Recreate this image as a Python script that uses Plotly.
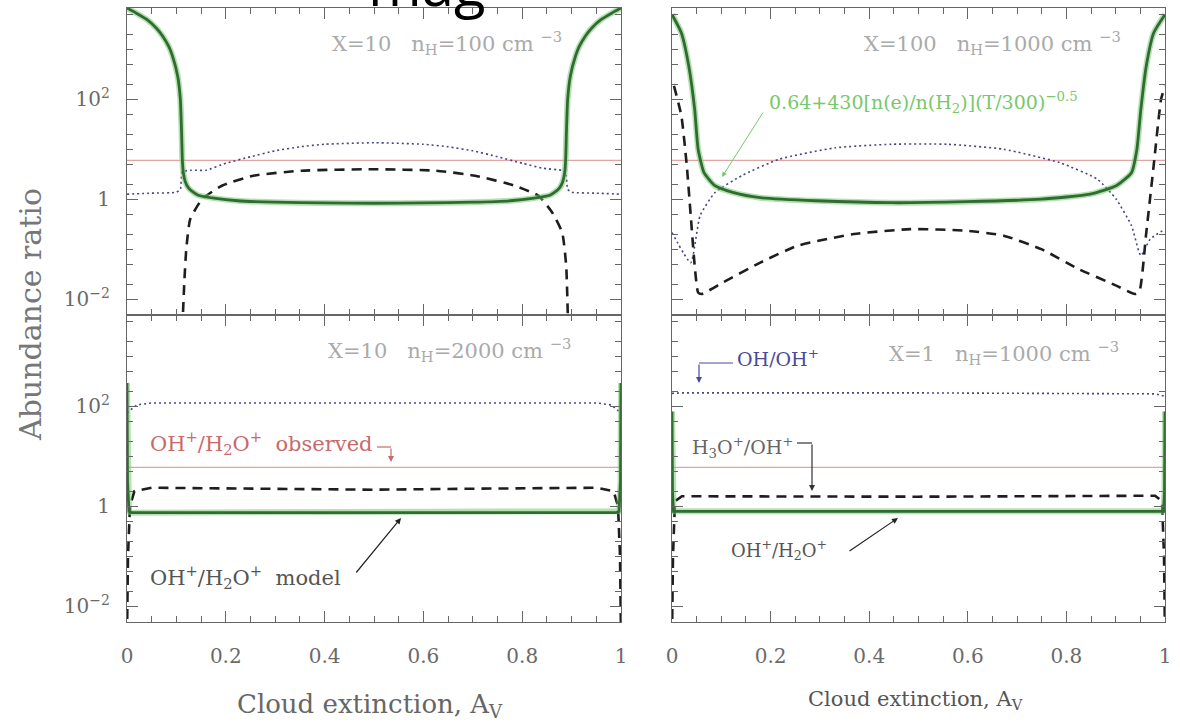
import plotly.graph_objects as go

# ---------------- data (ratios vs cloud extinction A_V) ----------------
OBS_RATIO = 6.0
obs_x = [0.0, 1.0]
obs_y = [OBS_RATIO, OBS_RATIO]

# Top-left: X=10, nH=100
tl_green_x = [0.0, 0.02, 0.04, 0.06, 0.072, 0.085, 0.092, 0.1025, 0.108, 0.1105, 0.112, 0.114, 0.118,
              0.124, 0.134, 0.144, 0.176, 0.224, 0.3, 0.4, 0.5, 0.6, 0.7, 0.776, 0.824, 0.856, 0.866,
              0.876, 0.882, 0.886, 0.888, 0.8895, 0.892, 0.8975, 0.908, 0.915, 0.928, 0.94, 0.96, 0.98, 1.0]
tl_green_y = [6760, 5250, 3980, 2630, 1860, 1120, 741, 295, 100, 21.4, 6.3, 3.4, 2.24,
              1.70, 1.38, 1.20, 1.05, 0.93, 0.87, 0.84, 0.83, 0.84, 0.87, 0.93, 1.05, 1.20, 1.38,
              1.70, 2.24, 3.4, 6.3, 21.4, 100, 295, 741, 1120, 1860, 2630, 3980, 5250, 6760]
tl_dash_x = [0.112, 0.116, 0.12, 0.128, 0.152, 0.192, 0.256, 0.353, 0.497, 0.625, 0.705, 0.785,
             0.833, 0.861, 0.881, 0.889, 0.893]
tl_dash_y = [0.0025, 0.0214, 0.1, 0.398, 1.0, 1.86, 2.95, 3.72, 3.98, 3.72, 2.95, 1.86,
             1.17, 0.537, 0.214, 0.0468, 0.0025]
tl_dot_x = [0.0, 0.05, 0.1, 0.108, 0.112, 0.13, 0.16, 0.2, 0.25, 0.3, 0.35, 0.4, 0.5, 0.6, 0.65,
            0.7, 0.75, 0.8, 0.84, 0.88, 0.888, 0.892, 0.9, 0.95, 1.0]
tl_dot_y = [1.26, 1.32, 1.38, 1.58, 3.55, 3.8, 3.8, 5.25, 7.08, 9.33, 11.2, 12.6, 13.5, 12.6, 11.2,
            9.33, 7.08, 5.25, 4.2, 3.8, 3.55, 1.58, 1.38, 1.32, 1.26]

# Top-right: X=100, nH=1000
tr_green_x = [0.0, 0.019, 0.034, 0.046, 0.053, 0.065, 0.087, 0.125, 0.179, 0.293, 0.445, 0.597,
              0.749, 0.848, 0.901, 0.932, 0.943, 0.951, 0.962, 0.977, 1.0]
tr_green_y = [5010, 2140, 468, 63, 10, 3.39, 1.86, 1.35, 1.07, 0.93, 0.85, 0.89,
              1.0, 1.26, 1.86, 3.39, 10, 63, 468, 2140, 5010]
tr_dash_x = [0.004, 0.019, 0.03, 0.038, 0.046, 0.053, 0.06, 0.103, 0.179, 0.255, 0.369, 0.483,
             0.597, 0.673, 0.749, 0.825, 0.901, 0.939, 0.948, 0.962, 0.977, 0.992, 1.0]
tr_dash_y = [186, 46.8, 4.68, 0.468, 0.0468, 0.0135, 0.0126, 0.0214, 0.0537, 0.117, 0.2, 0.251,
             0.234, 0.186, 0.1, 0.0398, 0.0186, 0.0126, 0.0141, 0.214, 4.68, 100, 186]
tr_dot_x = [0.0, 0.038, 0.057, 0.087, 0.141, 0.217, 0.331, 0.445, 0.559, 0.673, 0.787, 0.863,
            0.901, 0.932, 0.951, 0.97, 1.0]
tr_dot_y = [0.214, 0.0537, 0.468, 1.35, 2.95, 6.31, 10.7, 12.6, 12.6, 10.0, 5.37, 2.51,
            1.0, 0.295, 0.0741, 0.158, 0.251]

# Bottom-left: X=10, nH=2000
bl_green_x = [0.0, 0.001, 0.004, 0.01, 0.5, 0.99, 0.996, 0.999, 1.0]
bl_green_y = [295, 3.2, 0.79, 0.74, 0.74, 0.74, 0.79, 3.2, 295]
bl_dash_x = [0.0, 0.002, 0.006, 0.015, 0.05, 0.3, 0.5, 0.7, 0.95, 0.985, 0.994, 0.998, 1.0]
bl_dash_y = [0.0025, 0.1, 1.0, 2.0, 2.34, 2.24, 2.14, 2.24, 2.34, 2.0, 1.0, 0.1, 0.0025]
bl_dot_x = [0.0, 0.02, 0.05, 0.5, 0.95, 0.98, 1.0]
bl_dot_y = [74, 107, 117, 117, 117, 107, 74]

# Bottom-right: X=1, nH=1000
br_green_x = [0.0, 0.001, 0.003, 0.5, 0.997, 0.999, 1.0]
br_green_y = [79, 2.0, 0.79, 0.79, 0.79, 2.0, 79]
br_dash_x = [0.0, 0.002, 0.006, 0.02, 0.5, 0.98, 0.994, 0.998, 1.0]
br_dash_y = [0.0025, 0.1, 1.26, 1.58, 1.55, 1.62, 1.26, 0.1, 0.0025]
br_dot_x = [0.0, 0.02, 0.5, 0.98, 1.0]
br_dot_y = [182, 186, 186, 178, 158]

x_tick_vals = [0, 0.2, 0.4, 0.6, 0.8, 1.0]
x_tick_text = ["0", "0.2", "0.4", "0.6", "0.8", "1"]
y_tick_vals = [0.01, 1, 100]
y_tick_text = ["10<sup>−2</sup>", "1", "10<sup>2</sup>"]
y_minor_vals = [0.005, 0.02, 0.05, 0.1, 0.2, 0.5, 2, 5, 10, 20, 50, 200, 500, 1000, 2000, 5000]

# ---------------- figure ----------------
W, H = 1180, 725
ML, MR, MT, MB = 127, 15, 8, 103
PW, PH = W - ML - MR, H - MT - MB


def px(x):
    return (x - ML) / PW


def py(y):
    return (H - MB - y) / PH


fig = go.Figure()

GREEN = "#2f6b33"
GLOW = "rgba(120,200,110,0.55)"
DASH = "#1e1e1e"
DOT = "#45458a"
RED = "#e3a3a3"

panels = [
    ("x", "y", tl_green_x, tl_green_y, tl_dash_x, tl_dash_y, tl_dot_x, tl_dot_y, "spline"),
    ("x2", "y2", tr_green_x, tr_green_y, tr_dash_x, tr_dash_y, tr_dot_x, tr_dot_y, "spline"),
    ("x3", "y3", bl_green_x, bl_green_y, bl_dash_x, bl_dash_y, bl_dot_x, bl_dot_y, "linear"),
    ("x4", "y4", br_green_x, br_green_y, br_dash_x, br_dash_y, br_dot_x, br_dot_y, "linear"),
]
for xa, ya, gx, gy, dx, dy, ox, oy, shp in panels:
    sm = dict(shape=shp, smoothing=0.5) if shp == "spline" else dict(shape="linear")
    fig.add_trace(go.Scatter(x=obs_x, y=obs_y, xaxis=xa, yaxis=ya, mode="lines",
                             line=dict(color=RED, width=1.3), showlegend=False))
    fig.add_trace(go.Scatter(x=ox, y=oy, xaxis=xa, yaxis=ya, mode="lines",
                             line=dict(color=DOT, width=1.6, dash="2px,3px", **sm),
                             showlegend=False))
    fig.add_trace(go.Scatter(x=dx, y=dy, xaxis=xa, yaxis=ya, mode="lines",
                             line=dict(color=DASH, width=2.6, dash="10px,7px", **sm),
                             showlegend=False))
    fig.add_trace(go.Scatter(x=gx, y=gy, xaxis=xa, yaxis=ya, mode="lines",
                             line=dict(color=GLOW, width=6, **sm),
                             showlegend=False))
    fig.add_trace(go.Scatter(x=gx, y=gy, xaxis=xa, yaxis=ya, mode="lines",
                             line=dict(color=GREEN, width=2.8, **sm),
                             showlegend=False))

TICKFONT = dict(family="DejaVu Serif", size=20, color="#6a6a6a")
LINEC = "#666666"

xl = [0.0, 494 / PW]
xr = [(672 - ML) / PW, 1.0]
yb = [0.0, 0.5]
yt = [0.5, 1.0]


def xaxis(domain, anchor, labels):
    return dict(domain=domain, anchor=anchor, range=[0, 1], showgrid=False, zeroline=False,
                showline=True, linecolor=LINEC, linewidth=1.2, mirror="ticks",
                ticks="inside", ticklen=11, tickwidth=1.2, tickcolor=LINEC,
                tickmode="array", tickvals=x_tick_vals, ticktext=x_tick_text,
                showticklabels=labels, tickfont=TICKFONT, ticklabelstandoff=16,
                minor=dict(ticks="inside", ticklen=6, tickwidth=1.1, tickcolor=LINEC,
                           dtick=0.05, tick0=0, showgrid=False))


def yaxis(domain, anchor, labels):
    return dict(domain=domain, anchor=anchor, type="log", range=[-2.32, 3.83], showgrid=False,
                zeroline=False, showline=True, linecolor=LINEC, linewidth=1.2, mirror="ticks",
                ticks="inside", ticklen=11, tickwidth=1.2, tickcolor=LINEC,
                tickmode="array", tickvals=y_tick_vals, ticktext=y_tick_text,
                showticklabels=labels, tickfont=TICKFONT, ticklabelstandoff=12,
                minor=dict(ticks="inside", ticklen=6, tickwidth=1.1, tickcolor=LINEC,
                           tickmode="array", tickvals=y_minor_vals, showgrid=False))


fig.update_layout(
    width=W, height=H, margin=dict(l=ML, r=MR, t=MT, b=MB),
    paper_bgcolor="white", plot_bgcolor="white", showlegend=False,
    xaxis=xaxis(xl, "y", False), yaxis=yaxis(yt, "x", True),
    xaxis2=xaxis(xr, "y2", False), yaxis2=yaxis(yt, "x2", False),
    xaxis3=xaxis(xl, "y3", True), yaxis3=yaxis(yb, "x3", True),
    xaxis4=xaxis(xr, "y4", True), yaxis4=yaxis(yb, "x4", False),
)

SERIF = "DejaVu Serif"
ann = []


def text(x, y, s, size, color, anchor="left", angle=0, family=SERIF):
    ann.append(dict(xref="paper", yref="paper", x=px(x), y=py(y), text=s, showarrow=False,
                    xanchor=anchor, yanchor="middle", textangle=angle,
                    font=dict(family=family, size=size, color=color)))


def arrow(hx, hy, tx, ty, color, width=1.2, head=2):
    ann.append(dict(xref="paper", yref="paper", x=px(hx), y=py(hy), ax=tx - hx, ay=ty - hy,
                    axref="pixel", ayref="pixel", text="", showarrow=True, arrowhead=head,
                    arrowsize=1, arrowwidth=width, arrowcolor=color))


shapes = []


def seg(x0, y0, x1, y1, color, width=1.2):
    shapes.append(dict(type="line", xref="paper", yref="paper", x0=px(x0), y0=py(y0),
                       x1=px(x1), y1=py(y1), line=dict(color=color, width=width)))


NB = "&nbsp;"
GRAY = "#aaaaaa"
text(330, 43, "X=10" + NB * 3 + "n<sub>H</sub>=100 cm" + NB + "<sup>−3</sup>", 21, GRAY)
text(862, 43, "X=100" + NB * 3 + "n<sub>H</sub>=1000 cm" + NB + "<sup>−3</sup>", 21, GRAY)
text(326, 350, "X=10" + NB * 3 + "n<sub>H</sub>=2000 cm" + NB + "<sup>−3</sup>", 21, GRAY)
text(887, 353, "X=1" + NB * 3 + "n<sub>H</sub>=1000 cm" + NB + "<sup>−3</sup>", 21, GRAY)

text(767, 103, "0.64+430[n(e)/n(H<sub>2</sub>)](T/300)<sup>−0.5</sup>", 19, "#77c86a")
arrow(722, 177, 764, 111, "#77c86a", width=1.0)

text(148, 443, "OH<sup>+</sup>/H<sub>2</sub>O<sup>+</sup>" + NB * 2 + "observed", 21, "#c86a6a")
seg(377, 447, 391, 447, "#c86a6a")
arrow(391, 462, 391, 447, "#c86a6a", width=1.2)

text(148, 577, "OH<sup>+</sup>/H<sub>2</sub>O<sup>+</sup>" + NB * 2 + "model", 21, "#555555")
arrow(401, 518, 355, 574, "#222222", width=1.2)

text(735, 358, "OH/OH<sup>+</sup>", 19, "#4a4a99")
seg(733, 363, 699, 363, "#4a4a99")
arrow(699, 383, 699, 363, "#4a4a99", width=1.2)

text(690, 447, "H<sub>3</sub>O<sup>+</sup>/OH<sup>+</sup>", 19, "#666666")
seg(797, 443, 812, 443, "#333333")
arrow(812, 491, 812, 443, "#333333", width=1.2)

text(729, 550, "OH<sup>+</sup>/H<sub>2</sub>O<sup>+</sup>", 18, "#555555")
arrow(898, 518, 848, 552, "#222222", width=1.2)

text(30, 315, "Abundance ratio", 30, "#777777", anchor="center", angle=-90)
text(370, 705, "Cloud extinction, A<sub>V</sub>", 26, "#666666", anchor="center")
text(915, 700, "Cloud extinction, A<sub>V</sub>", 21, "#555555", anchor="center")

# stray title
ann.append(dict(xref="paper", yref="paper", x=px(426), y=py(-16), text="mag", showarrow=False,
                xanchor="center", yanchor="middle",
                font=dict(family="Open Sans", size=58, color="black")))

fig.update_layout(annotations=ann, shapes=shapes)
fig.write_html("out.html")
